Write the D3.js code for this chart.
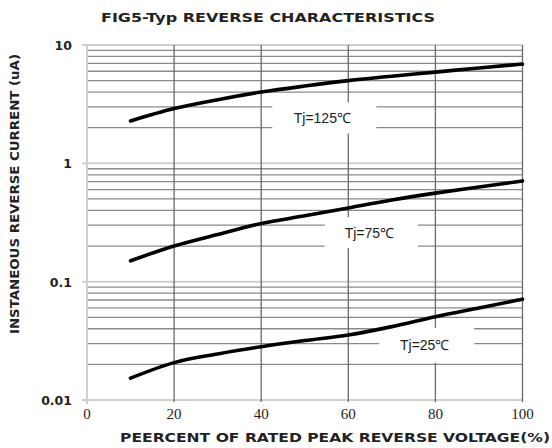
<!DOCTYPE html>
<html><head><meta charset="utf-8">
<script src="https://cdn.jsdelivr.net/npm/d3@7"></script>
<style>body{margin:0;background:#fff}svg{display:block}</style>
</head><body>
<svg id="c" width="552" height="448"></svg>
<script>
const xs = [10, 20, 30, 40, 50, 60, 70, 80, 90, 100];
const tj125 = [2.28, 2.9, 3.45, 4.0, 4.5, 5.0, 5.45, 5.9, 6.4, 6.9];
const tj75 = [0.15, 0.20, 0.25, 0.31, 0.36, 0.42, 0.49, 0.56, 0.63, 0.71];
const tj25 = [0.0153, 0.0207, 0.0245, 0.0282, 0.0318, 0.0354, 0.0417, 0.0506, 0.060, 0.071];
const seriesNames = ["Tj=125\u2103", "Tj=75\u2103", "Tj=25\u2103"];
const labelX = [54.5, 65.3, 78];
const labelY = [2.42, 0.26, 0.029];
const xTicks = [0, 20, 40, 60, 80, 100];
const yTicks = [10, 1, 0.1, 0.01];
const yTickLabels = ["10", "1", "0.1", "0.01"];
const title = "FIG5-Typ REVERSE CHARACTERISTICS";
const xTitle = "PEERCENT OF RATED PEAK REVERSE VOLTAGE(%)";
const yTitle = "INSTANEOUS REVERSE CURRENT (uA)";

const svg = d3.select("#c");
const x = d3.scaleLinear().domain([0, 100]).range([87, 522.5]);
const y = d3.scaleLog().domain([0.01, 10]).range([400, 45]);

// minor horizontal grid
const minor = [];
[0.01, 0.1, 1].forEach(d => { for (let k = 2; k <= 9; k++) minor.push(d * k); });
const g = svg.append("g");
g.selectAll("line.mh").data(minor).enter().append("line")
  .attr("x1", x(0)).attr("x2", x(100))
  .attr("y1", d => y(d)).attr("y2", d => y(d))
  .attr("stroke", "#8a8a8a").attr("stroke-width", 1.3);
// decade lines
g.selectAll("line.dh").data(yTicks).enter().append("line")
  .attr("x1", x(0) - 5).attr("x2", x(100))
  .attr("y1", d => y(d)).attr("y2", d => y(d))
  .attr("stroke", "#cfcfcf").attr("stroke-width", 2);
// vertical grid
g.selectAll("line.v").data(xTicks.slice(1)).enter().append("line")
  .attr("x1", d => x(d)).attr("x2", d => x(d))
  .attr("y1", y(10)).attr("y2", y(0.01) + 2)
  .attr("stroke", "#6a6a6a").attr("stroke-width", 1.3);
g.append("line").attr("x1", x(0)).attr("x2", x(0)).attr("y1", y(10)).attr("y2", y(0.01) + 4)
  .attr("stroke", "#cfcfcf").attr("stroke-width", 2);

// label boxes (white background breaking grid)
const boxW = [104, 93, 95], boxH = [31, 31, 35];
labelX.forEach((lx, i) => {
  svg.append("rect").attr("x", x(lx) - boxW[i] / 2).attr("y", y(labelY[i]) - boxH[i] / 2)
    .attr("width", boxW[i]).attr("height", boxH[i]).attr("fill", "#fff");
});

// curves
const data = [tj125, tj75, tj25];
const line = d3.line().x((d, i) => x(xs[i])).y(d => y(d)).curve(d3.curveMonotoneX);
data.forEach(s => {
  svg.append("path").attr("d", line(s)).attr("fill", "none")
    .attr("stroke", "#000").attr("stroke-width", 3.6).attr("stroke-linecap", "round");
});

// labels
labelX.forEach((lx, i) => {
  svg.append("text").attr("x", x(lx) - 2).attr("y", y(labelY[i]) + 5)
    .attr("text-anchor", "middle").attr("font-family", "Liberation Sans, Arial, sans-serif")
    .attr("font-size", 14).attr("fill", "#222").text(seriesNames[i]);
});

// y tick labels
svg.selectAll("text.yt").data(yTicks).enter().append("text")
  .attr("x", 72).attr("y", d => y(d) + 5).attr("text-anchor", "end")
  .attr("font-family", "DejaVu Sans, sans-serif").attr("font-weight", "bold")
  .attr("font-size", 12.5).attr("fill", "#222")
  .text((d, i) => yTickLabels[i]);
// x tick labels
svg.selectAll("text.xt").data(xTicks).enter().append("text")
  .attr("x", d => x(d)).attr("y", 419).attr("text-anchor", "middle")
  .attr("font-family", "Liberation Serif, serif").attr("font-size", 15).attr("fill", "#222")
  .text(d => d);

// titles
svg.append("text").attr("x", 268).attr("y", 22).attr("text-anchor", "middle")
  .attr("font-family", "DejaVu Sans, sans-serif").attr("font-weight", "bold")
  .attr("font-size", 12.5).attr("fill", "#222")
  .attr("textLength", 334).attr("lengthAdjust", "spacingAndGlyphs").text(title);
svg.append("text").attr("x", 335).attr("y", 442).attr("text-anchor", "middle")
  .attr("font-family", "DejaVu Sans, sans-serif").attr("font-weight", "bold")
  .attr("font-size", 12.5).attr("fill", "#222")
  .attr("textLength", 430).attr("lengthAdjust", "spacingAndGlyphs").text(xTitle);
svg.append("text").attr("transform", "translate(19,194) rotate(-90)").attr("text-anchor", "middle")
  .attr("font-family", "DejaVu Sans, sans-serif").attr("font-weight", "bold")
  .attr("font-size", 11.5).attr("fill", "#222")
  .attr("textLength", 280).attr("lengthAdjust", "spacingAndGlyphs").text(yTitle);
</script>
</body></html>
